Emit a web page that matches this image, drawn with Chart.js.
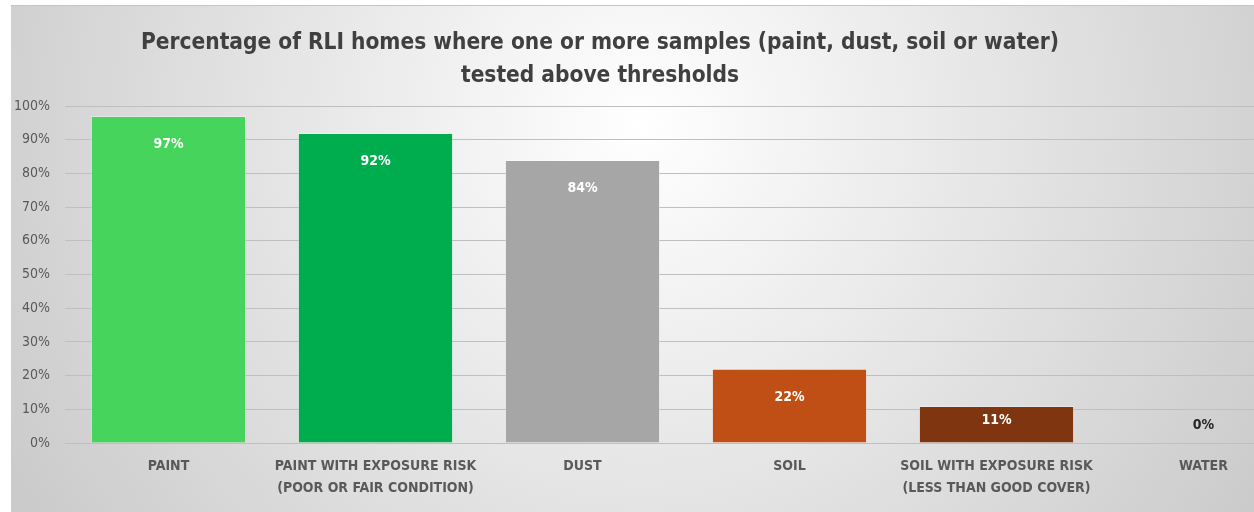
<!DOCTYPE html>
<html>
<head>
<meta charset="utf-8">
<script src="https://cdn.jsdelivr.net/npm/chart.js@4/dist/chart.umd.min.js"></script>
<style>
    html, body { margin: 0; padding: 0; background: #fff; overflow: hidden; width: 1254px; height: 512px; }
    #wrap { position: absolute; left: 11px; top: 5px; width: 1300px; height: 507px; border-top: 1px solid #c4c4c4; box-sizing: border-box; }
</style>
</head>
<body>
<div id="wrap"><canvas id="chart"></canvas></div>
<script>
const categories = [
    'PAINT',
    ['PAINT WITH EXPOSURE RISK', '(POOR OR FAIR CONDITION)'],
    'DUST',
    'SOIL',
    ['SOIL WITH EXPOSURE RISK', '(LESS THAN GOOD COVER)'],
    'WATER'
];
const values = [97, 92, 84, 22, 11, 0];
const barColors = ['#47d45c', '#00ad4e', '#a6a6a6', '#c04f15', '#7f3510', '#7f3510'];
const titleLines = [
    'Percentage of RLI homes where one or more samples (paint, dust, soil or water)',
    'tested above thresholds'
];

const FONT = '"Liberation Sans Narrow", "Arial Narrow", "DejaVu Sans Condensed", sans-serif';

// gradient background + title, drawn by hand so it sits where the original does
const backdrop = {
    id: 'backdrop',
    beforeDraw(chart) {
        const ctx = chart.ctx;
        const g = ctx.createRadialGradient(630, 120, 0, 630, 120, 720);
        g.addColorStop(0, '#ffffff');
        g.addColorStop(1, '#cbcbcb');
        ctx.save();
        ctx.fillStyle = g;
        ctx.fillRect(0, 0, chart.width, chart.height);
        ctx.restore();
    },
    afterDraw(chart) {
        const ctx = chart.ctx;
        ctx.save();
        ctx.fillStyle = '#404040';
        ctx.font = 'bold 22.5px ' + FONT;
        ctx.textAlign = 'center';
        ctx.textBaseline = 'middle';
        ctx.fillText(titleLines[0], 589, 37);
        ctx.fillText(titleLines[1], 589, 70);
        ctx.restore();
    }
};

const barLabels = {
    id: 'barLabels',
    afterDatasetsDraw(chart) {
        const ctx = chart.ctx;
        const meta = chart.getDatasetMeta(0);
        ctx.save();
        ctx.font = 'bold 14px ' + FONT;
        ctx.textAlign = 'center';
        ctx.textBaseline = 'middle';
        meta.data.forEach((bar, i) => {
            const v = values[i];
            let y;
            if (v === 0) {
                ctx.fillStyle = '#262626';
                y = bar.base - 18;
            } else {
                ctx.fillStyle = '#ffffff';
                y = bar.y + Math.min(28, (bar.base - bar.y) / 2 - 4);
            }
            ctx.fillText(v + '%', bar.x, y);
        });
        ctx.restore();
    }
};

new Chart(document.getElementById('chart'), {
    type: 'bar',
    data: {
        labels: categories,
        datasets: [{
            data: values,
            backgroundColor: barColors,
            borderColor: 'rgba(255,255,255,0.35)',
            borderWidth: 1,
            barPercentage: 0.75,
            categoryPercentage: 1
        }]
    },
    options: {
        responsive: true,
        maintainAspectRatio: false,
        animation: false,
        layout: { padding: { top: 100, left: 0, right: 4, bottom: 0 } },
        plugins: {
            legend: { display: false },
            title: { display: false },
            tooltip: { enabled: false }
        },
        scales: {
            x: {
                grid: { display: false },
                border: { display: false },
                ticks: {
                    color: '#595959',
                    font: { family: FONT, size: 14, weight: 'bold', lineHeight: 1.55 },
                    maxRotation: 0,
                    autoSkip: false,
                    padding: 5
                },
                afterFit(scale) { scale.height = 69; }
            },
            y: {
                min: 0,
                max: 100,
                grid: { color: '#bfbfbf', drawTicks: false, lineWidth: 1 },
                border: { display: false },
                ticks: {
                    stepSize: 10,
                    color: '#595959',
                    font: { family: FONT, size: 14 },
                    padding: 15,
                    callback: v => v + '%'
                },
                afterFit(scale) { scale.width = 54; }
            }
        }
    },
    plugins: [backdrop, barLabels]
});
</script>
</body>
</html>
